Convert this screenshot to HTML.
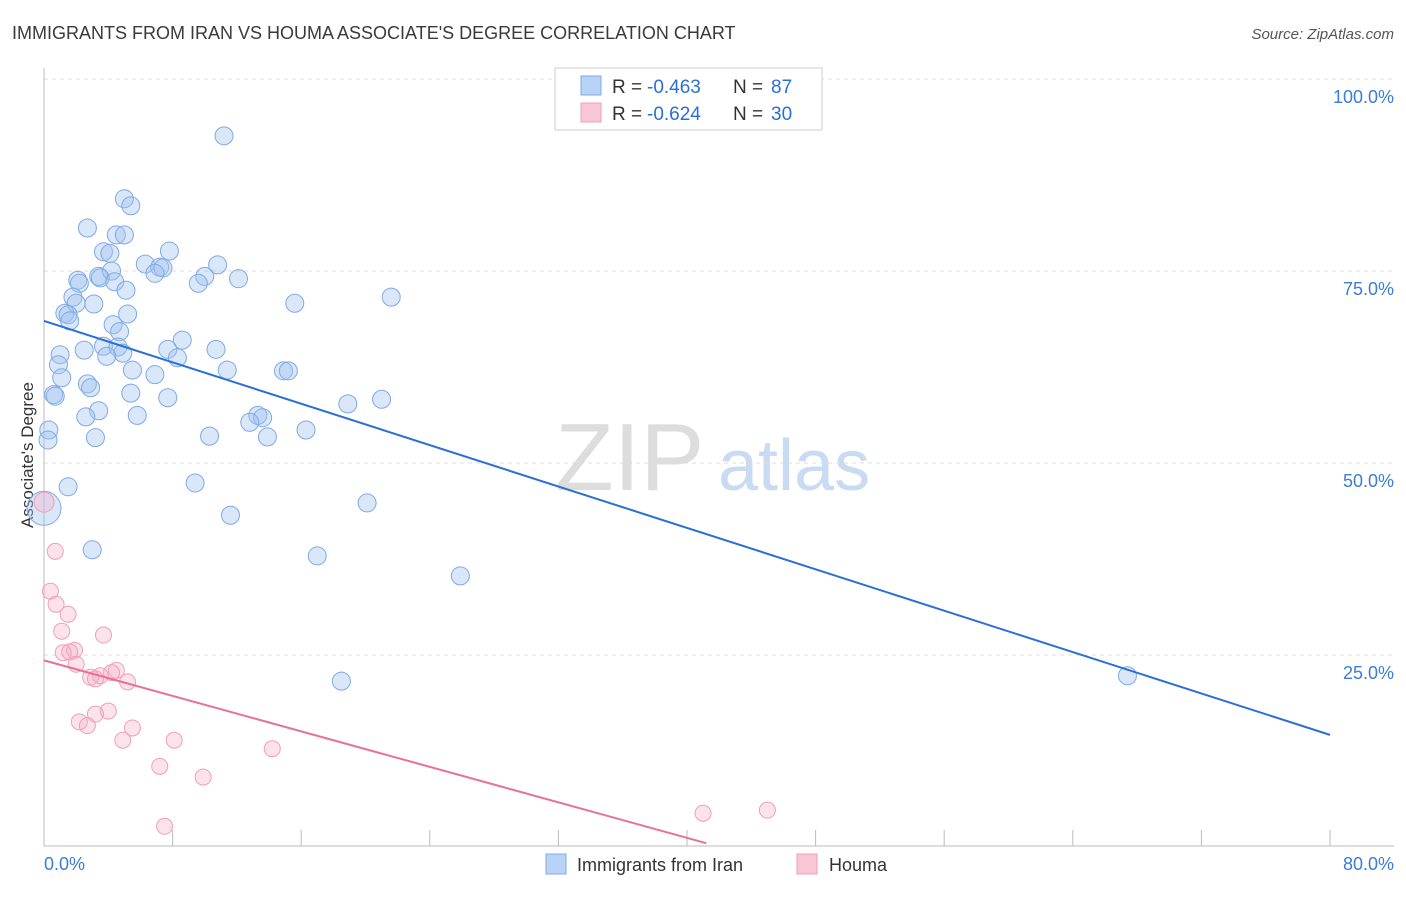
<!DOCTYPE html>
<html><head><meta charset="utf-8"><style>
body{margin:0;background:#fff;font-family:"Liberation Sans",sans-serif;}
svg text{font-family:"Liberation Sans",sans-serif;}
</style></head><body>
<svg id="chart" width="1406" height="892" xmlns="http://www.w3.org/2000/svg">
<text x="12" y="39" font-size="18" fill="#3a3a3a">IMMIGRANTS FROM IRAN VS HOUMA ASSOCIATE'S DEGREE CORRELATION CHART</text>
<text x="1394" y="39" font-size="15" fill="#555" text-anchor="end" font-style="italic">Source: ZipAtlas.com</text>
<text x="555" y="490" font-size="96" fill="#ddd" font-family="Liberation Serif,serif">ZIP</text>
<text x="718" y="490" font-size="72" fill="#c9daf3">atlas</text>
<g id="grid"></g>
<line x1="44" y1="68" x2="44" y2="846" stroke="#bbb"/>
<line x1="44" y1="846" x2="1394" y2="846" stroke="#bbb"/>
<text transform="translate(33,455) rotate(-90)" font-size="17" fill="#333" text-anchor="middle">Associate's Degree</text>
<text x="44" y="870" font-size="18" fill="#3b7dd8">0.0%</text>
<text x="1394" y="870" font-size="18" fill="#3b7dd8" text-anchor="end">80.0%</text>
<g id="marks"></g>
<g>
<rect x="555" y="68" width="267" height="62" fill="#fff" stroke="#ccc"/>
<rect x="581" y="76" width="20" height="19" fill="#b8d3f5" stroke="#7fa9e6"/>
<rect x="581" y="103" width="20" height="19" fill="#f9c6d6" stroke="#eda0b8"/>
<text x="612" y="93" font-size="19" fill="#333">R =</text>
<text x="647" y="93" font-size="19" fill="#2a6fd6">-0.463</text>
<text x="733" y="93" font-size="19" fill="#333">N =</text>
<text x="771" y="93" font-size="19" fill="#2a6fd6">87</text>
<text x="612" y="120" font-size="19" fill="#333">R =</text>
<text x="647" y="120" font-size="19" fill="#2a6fd6">-0.624</text>
<text x="733" y="120" font-size="19" fill="#333">N =</text>
<text x="771" y="120" font-size="19" fill="#2a6fd6">30</text>
</g>
<g><rect x="546" y="854" width="20" height="20" fill="#b8d3f5" stroke="#7fa9e6"/><text x="577" y="871" font-size="18" fill="#333">Immigrants from Iran</text></g>
<g><rect x="797" y="854" width="20" height="20" fill="#f9c6d6" stroke="#eda0b8"/><text x="829" y="871" font-size="18" fill="#333">Houma</text></g>
</svg>
<script>
const yTicks=[25,50,75,100];
const xTicks=[0,8,16,24,32,40,48,56,64,72,80];
const blueX=[11.2,5.0,5.4,2.7,4.5,5.0,3.7,4.1,7.8,6.3,7.2,7.4,6.9,10.8,2.1,2.2,3.4,4.2,3.5,4.4,10.0,9.6,12.1,5.1,1.8,2.0,3.1,15.6,21.6,1.3,1.5,1.6,5.2,4.3,4.7,1.0,0.9,2.5,3.7,4.6,4.9,3.9,8.6,7.7,8.3,10.7,11.4,5.5,14.9,15.2,1.1,2.7,2.9,6.9,5.4,7.7,0.6,3.4,2.6,5.8,18.9,21.0,13.3,13.6,12.8,16.3,3.2,10.3,13.9,0.3,0.25,1.5,9.4,20.1,11.6,3.0,17.0,25.9,18.5,67.4,0.7];
const blueY=[92.6,84.4,83.5,80.6,79.7,79.7,77.5,77.3,77.6,75.9,75.5,75.4,74.7,75.8,73.8,73.4,74.3,75.0,74.1,73.6,74.3,73.4,74.0,72.5,71.6,70.8,70.7,70.8,71.6,69.5,69.3,68.5,69.4,68.0,67.1,64.1,62.8,64.7,65.2,65.1,64.3,63.9,66.0,64.8,63.7,64.8,62.1,62.1,62.0,62.0,61.1,60.3,59.8,61.5,59.1,58.5,58.9,56.8,56.0,56.2,57.7,58.3,56.2,55.9,55.3,54.3,53.3,53.5,53.4,54.3,53.0,46.9,47.4,44.8,43.2,38.7,37.9,35.3,21.6,22.3,58.7];
const pinkX=[0.7,0.4,0.75,1.5,1.1,3.7,1.9,1.2,1.6,2.0,4.5,4.2,3.5,2.9,3.2,5.2,4.0,3.2,2.2,2.7,5.5,4.9,8.1,14.2,7.2,9.9,7.5,41.0,45.0];
const pinkY=[38.5,33.3,31.6,30.3,28.1,27.6,25.6,25.3,25.4,23.8,23.0,22.7,22.3,22.1,21.9,21.5,17.7,17.3,16.3,15.8,15.5,13.9,13.9,12.8,10.5,9.1,2.7,4.4,4.8];
const blueBig=[0,44.1];
const pinkBig=[0,44.9];
const blueTrend=[[0,68.5],[80,14.6]];
const pinkTrend=[[0,24.3],[41.2,0.5]];
const X=v=>44+v/80*1286, Y=v=>847-v/100*768;
const NS="http://www.w3.org/2000/svg";
const grid=document.getElementById('grid'), marks=document.getElementById('marks');
function mk(tag,attrs,parent){const e=document.createElementNS(NS,tag);for(const k in attrs)e.setAttribute(k,attrs[k]);parent.appendChild(e);return e;}
yTicks.forEach(t=>{
 const l=mk('line',{x1:44,x2:1394,y1:Y(t),y2:Y(t),stroke:'#ddd','stroke-dasharray':'4,4'},grid);
 
 
 const tx=mk('text',{x:1394,y:Y(t)+24,'font-size':18,fill:'#3b7dd8','text-anchor':'end'},grid);
 tx.textContent=t.toFixed(1)+'%';
 
 
});
xTicks.forEach(t=>{
 const l=mk('line',{x1:X(t),x2:X(t),y1:830,y2:846,stroke:'#bbb'},grid);
 
 
});
function dot(x,y,r,fill,stroke,name){
 const c=mk('circle',{cx:X(x),cy:Y(y),r:r,fill:fill,stroke:stroke,'stroke-width':1},marks);
 
 
}
blueX.forEach((x,i)=>dot(x,blueY[i],9,'rgba(160,195,240,0.4)','#7fa9e6','point-iran'));
pinkX.forEach((x,i)=>dot(x,pinkY[i],8,'rgba(245,175,198,0.35)','#eda0b8','point-houma'));
dot(blueBig[0],blueBig[1],17,'rgba(160,195,240,0.4)','#7fa9e6','point-iran-large');
dot(pinkBig[0],pinkBig[1],10,'rgba(245,175,198,0.35)','#eda0b8','point-houma-large');
const bl=mk('line',{x1:X(blueTrend[0][0]),y1:Y(blueTrend[0][1]),x2:X(blueTrend[1][0]),y2:Y(blueTrend[1][1]),stroke:'#2a6fd6','stroke-width':2},marks);


const pl=mk('line',{x1:X(pinkTrend[0][0]),y1:Y(pinkTrend[0][1]),x2:X(pinkTrend[1][0]),y2:Y(pinkTrend[1][1]),stroke:'#e8709a','stroke-width':2},marks);


</script>
</body></html>
